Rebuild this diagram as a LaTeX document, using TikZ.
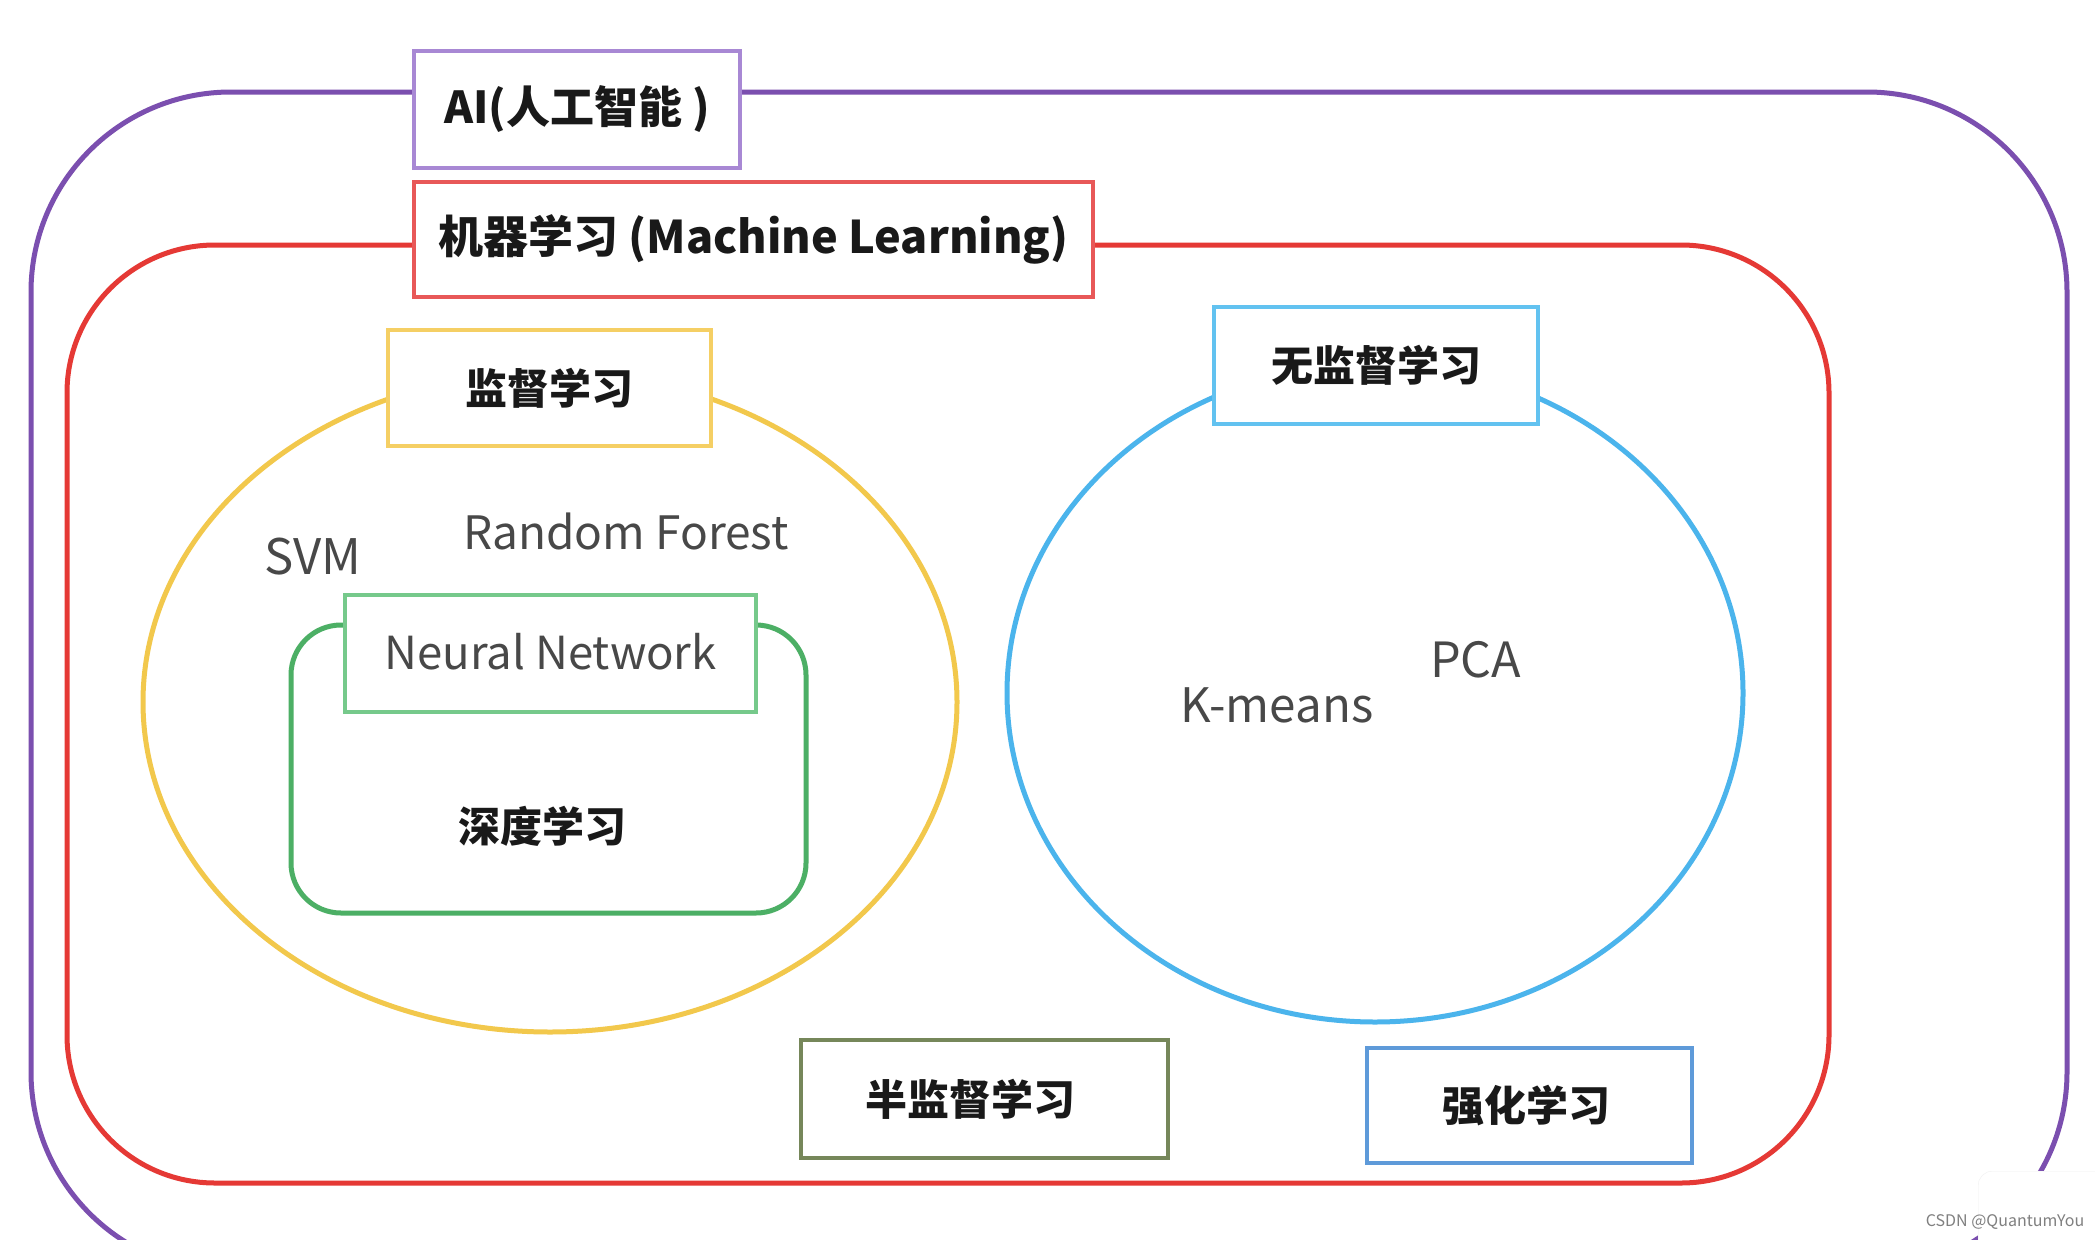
\documentclass[tikz,border=0pt]{standalone}
\usepackage{fontspec}
\setmainfont{Noto Sans CJK SC}
\usetikzlibrary{shapes.geometric}
\definecolor{cpurple}{RGB}{123,79,175}
\definecolor{cpurplebox}{RGB}{168,136,212}
\definecolor{cred}{RGB}{229,57,53}
\definecolor{credbox}{RGB}{232,88,88}
\definecolor{cyellow}{RGB}{242,200,76}
\definecolor{cyellowbox}{RGB}{245,207,100}
\definecolor{cblue}{RGB}{75,180,236}
\definecolor{cbluebox}{RGB}{98,194,240}
\definecolor{cgreen}{RGB}{76,175,101}
\definecolor{cgreenbox}{RGB}{118,201,139}
\definecolor{colive}{RGB}{118,135,90}
\definecolor{csteel}{RGB}{94,154,217}
\definecolor{ctextgray}{RGB}{72,72,72}
\definecolor{ctextdark}{RGB}{25,25,25}
\begin{document}
\begin{tikzpicture}[x=1pt,y=-1pt,
  frame/.style={draw, line width=5pt, inner sep=0pt},
  tagbox/.style={draw, fill=white, line width=3.5pt, inner sep=0pt, text=ctextdark,
    font=\fontsize{42pt}{48pt}\selectfont\bfseries},
  latin/.style={text=ctextgray, inner sep=0pt, anchor=base west},
  cjklabel/.style={text=ctextdark, inner sep=0pt,
    font=\fontsize{42pt}{48pt}\selectfont\bfseries}]
\useasboundingbox (0,0) rectangle (2095,1239);
\clip (0,0) rectangle (2095,1239);
\fill[white] (0,0) rectangle (2095,1239);

% outer frames
\node[frame, draw=cpurple, rounded corners=200pt, minimum width=2036pt, minimum height=1180pt] (aiframe) at (1049,682) {};
\node[frame, draw=cred, rounded corners=148pt, minimum width=1762pt, minimum height=938pt] (mlframe) at (948,714) {};

% supervised / unsupervised regions
\node[frame, draw=cyellow, ellipse, minimum width=814pt, minimum height=660pt] (supreg) at (550,702) {};
\node[frame, draw=cblue, ellipse, minimum width=736pt, minimum height=658pt] (unsupreg) at (1375,693) {};
\node[frame, draw=cgreen, rounded corners=50pt, minimum width=515pt, minimum height=288pt] (dlreg) at (548.5,769) {};

% title boxes
\node[tagbox, draw=cpurplebox, minimum width=326pt, minimum height=117pt, font=\fontsize{44pt}{50pt}\selectfont\bfseries] (ai) at (577,109.5) {\raisebox{3pt}{AI(人工智能 )}};
\node[tagbox, draw=credbox, minimum width=679pt, minimum height=115pt, font=\fontsize{45pt}{50pt}\selectfont\bfseries] (ml) at (753.5,239.5) {\raisebox{1pt}{机器学习 (Machine Learning)}};
\node[tagbox, draw=cyellowbox, minimum width=323pt, minimum height=116pt] (sup) at (549.5,388) {监督学习};
\node[tagbox, draw=cgreenbox, minimum width=411pt, minimum height=117pt, font=\fontsize{45.5pt}{52pt}\selectfont, text=ctextgray] (nn) at (550.5,653.5) {\raisebox{5pt}{Neural Network}};
\node[tagbox, draw=cbluebox, minimum width=324pt, minimum height=117pt] (unsup) at (1376,365.5) {无监督学习};
\node[tagbox, draw=colive, minimum width=367pt, minimum height=118pt] (semi) at (984.5,1099) {半监督学习\hspace*{28pt}};
\node[tagbox, draw=csteel, minimum width=325pt, minimum height=115pt] (rl) at (1529.5,1105.5) {\raisebox{3pt}{强化学习}\hspace*{6pt}};

% labels
\node[latin, font=\fontsize{49pt}{56pt}\selectfont] (svm) at (264,574) {SVM};
\node[latin, font=\fontsize{46pt}{52pt}\selectfont] (rf) at (463,549) {Random Forest};
\node[latin, font=\fontsize{47.5pt}{54pt}\selectfont] (km) at (1180,722) {K-means};
\node[latin, font=\fontsize{48.5pt}{54pt}\selectfont] (pca) at (1430,677) {PCA};
\node[cjklabel] (dl) at (542,826) {深度学习};

% watermark
\node[fill=white, draw=black!6, rounded corners=14pt, minimum width=200pt, minimum height=120pt, anchor=north west, inner sep=0pt] (wmbox) at (1978,1171) {};
\node[text=black!50, inner sep=0pt, font=\fontsize{16pt}{18pt}\selectfont] (wm) at (2005,1222) {CSDN @QuantumYou};
\end{tikzpicture}
\end{document}
